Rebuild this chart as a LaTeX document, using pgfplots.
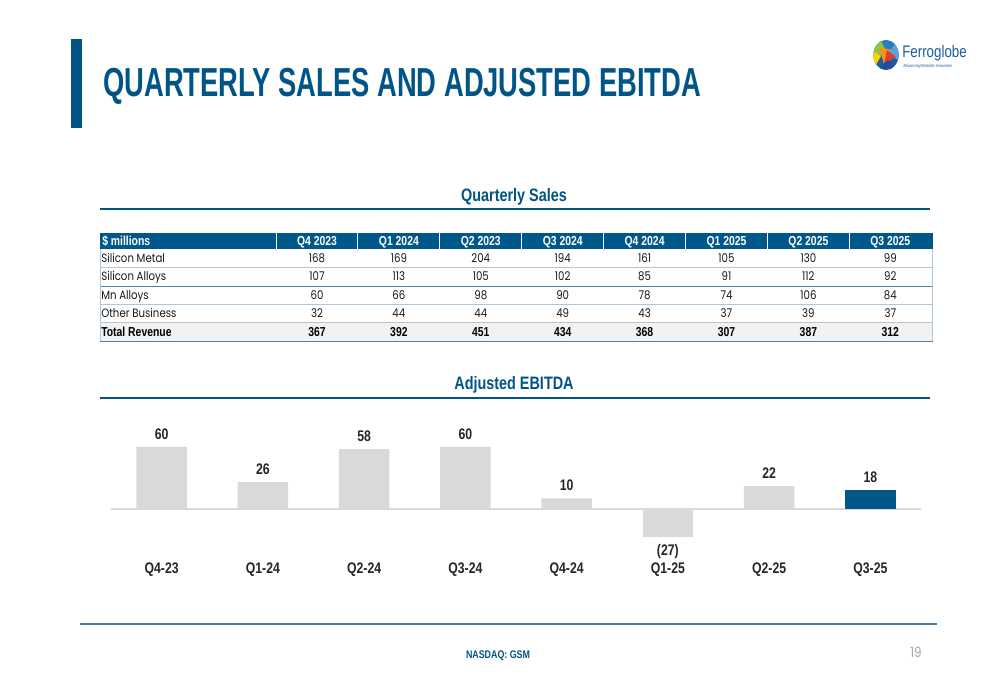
\documentclass[border=0pt]{standalone}
\usepackage{pgfplots}
\pgfplotsset{compat=1.18}
\usepackage{fontspec}
\setmainfont{Poppins}
\newfontfamily\bodyf[FakeStretch=0.85]{Poppins}
\newfontfamily\condf[FakeStretch=0.8]{Liberation Sans}
\newfontfamily\titlef[FakeStretch=0.675]{Liberation Sans}

\definecolor{fgblue}{RGB}{0,84,134}
\definecolor{headblue}{RGB}{0,87,137}
\definecolor{rowline}{RGB}{175,198,220}
\definecolor{rowdark}{RGB}{80,130,175}
\definecolor{bargray}{RGB}{217,217,217}
\definecolor{totalbg}{RGB}{242,242,242}
\definecolor{footline}{RGB}{70,125,165}
\definecolor{logoblue}{RGB}{27,94,158}
\definecolor{gemA}{RGB}{43,123,192}
\definecolor{gemB}{RGB}{85,165,220}
\definecolor{gemC}{RGB}{140,198,63}
\definecolor{gemD}{RGB}{255,210,0}
\definecolor{gemE}{RGB}{247,148,29}
\definecolor{gemF}{RGB}{224,60,49}
\definecolor{gemG}{RGB}{31,78,154}

\begin{document}
\begin{tikzpicture}[x=0.75pt,y=-0.75pt]
\useasboundingbox (0,0) rectangle (1000,685);
\fill[white] (0,0) rectangle (1000,685);

% title
\fill[fgblue] (71,39) rectangle (82,128);
\node[anchor=base west, inner sep=0, text=fgblue,
  font=\titlef\bfseries\fontsize{30.4}{32}\selectfont] at (103,97) {QUARTERLY SALES AND ADJUSTED EBITDA};

% logo
\begin{scope}
  \clip (886,55) ellipse [x radius=9.5pt, y radius=11.2pt];
  \fill[logoblue] (870,38) rectangle (902,72);
  \fill[gemA] (872,38) -- (900,38) -- (887,54) -- cycle;
  \fill[gemB] (900,38) -- (902,62) -- (887,54) -- cycle;
  \fill[gemC] (870,38) -- (880,38) -- (887,54) -- (870,58) -- cycle;
  \fill[gemD] (870,50) -- (881,56) -- (872,72) -- (870,72) -- cycle;
  \fill[gemE] (879,47) -- (891,50) -- (884,64) -- cycle;
  \fill[gemF] (887,50) -- (896,57) -- (884,64) -- cycle;
  \fill[gemG] (874,72) -- (900,72) -- (888,60) -- cycle;
\end{scope}
\node[anchor=base west, inner sep=0, text=logoblue,
  font=\condf\fontsize{12.5}{13}\selectfont] at (902,58) {Ferroglobe};
\node[anchor=base west, inner sep=0, text=logoblue,
  font=\condf\fontsize{3.3}{4}\selectfont] at (903,68) {Advancing Materials Innovation};

% quarterly sales header
\node[anchor=base, inner sep=0, text=fgblue,
  font=\condf\bfseries\fontsize{13.5}{14}\selectfont] at (514,201) {Quarterly Sales};
\draw[fgblue, line width=1.5pt] (100,208.5) -- (930,208.5);

% table
\fill[headblue] (100,233) rectangle (933,249);
\foreach \i in {0,...,7}
  \draw[white, line width=0.75pt] ({276+81.9*\i},233) -- ({276+81.9*\i},249);
\node[anchor=base west, inner sep=0, text=white,
  font=\condf\bfseries\fontsize{9.75}{10}\selectfont] at (102,245.5) {\$ millions};
\foreach \t [count=\i from 0] in {Q4 2023,Q1 2024,Q2 2023,Q3 2024,Q4 2024,Q1 2025,Q2 2025,Q3 2025}
  \node[anchor=base, inner sep=0, text=white,
    font=\condf\bfseries\fontsize{9.75}{10}\selectfont] at ({317+81.9*\i},245.5) {\t};

\fill[totalbg] (100,322.5) rectangle (933,341);
\draw[rowline, line width=0.75pt] (100,267.5) -- (933,267.5);
\draw[rowdark, line width=0.75pt] (100,286) -- (933,286);
\draw[rowline, line width=0.75pt] (100,304.2) -- (933,304.2);
\draw[rowline, line width=0.75pt] (100,322.5) -- (933,322.5);
\draw[rowdark, line width=0.75pt] (100,341) -- (933,341);
\draw[rowline, line width=0.75pt] (100.4,249) -- (100.4,341);
\draw[rowline, line width=0.75pt] (932.6,249) -- (932.6,341);

\foreach \name/\vals [count=\r from 0] in {
  Silicon Metal/{168,169,204,194,161,105,130,99},
  Silicon Alloys/{107,113,105,102,85,91,112,92},
  Mn Alloys/{60,66,98,90,78,74,106,84},
  Other Business/{32,44,44,49,43,37,39,37}} {
  \node[anchor=base west, inner sep=0, text=black!90,
    font=\bodyf\fontsize{9}{10}\selectfont] at (101,{262.5+18.4*\r}) {\name};
  \foreach \v [count=\i from 0] in \vals
    \node[anchor=base, inner sep=0, text=black!90,
      font=\bodyf\fontsize{9}{10}\selectfont] at ({317+81.9*\i},{262.5+18.4*\r}) {\v};
}
\node[anchor=base west, inner sep=0, text=black,
  font=\condf\bfseries\fontsize{9.75}{10}\selectfont] at (101,336) {Total Revenue};
\foreach \v [count=\i from 0] in {367,392,451,434,368,307,387,312}
  \node[anchor=base, inner sep=0, text=black,
    font=\condf\bfseries\fontsize{9.75}{10}\selectfont] at ({317+81.9*\i},336) {\v};

% adjusted ebitda header
\node[anchor=base, inner sep=0, text=fgblue,
  font=\condf\bfseries\fontsize{13.5}{14}\selectfont] at (514,389.5) {Adjusted EBITDA};
\draw[fgblue, line width=1.5pt] (100,397.5) -- (930,397.5);

% footer
\draw[footline, line width=2.2pt] (80,624) -- (937,624);
\node[anchor=base, inner sep=0, text=fgblue,
  font=\condf\bfseries\fontsize{8.3}{9}\selectfont] at (498,658) {NASDAQ: GSM};
\node[anchor=base, inner sep=0, text=black!35,
  font=\bodyf\fontsize{10.5}{11}\selectfont] at (916,657) {19};

\coordinate (chartorigin) at (111,550);

% bar chart
\begin{scope}[x=1cm,y=1cm]
\begin{axis}[
  at={(chartorigin)}, anchor=south west,
  scale only axis, width=607.5pt, height=85pt,
  xmin=-0.5, xmax=7.5, ymin=-40, ymax=70,
  axis line style={draw=none},
  major tick length=0pt,
  ytick=\empty,
  xtick={0,...,7},
  xticklabels={Q4-23,Q1-24,Q2-24,Q3-24,Q4-24,Q1-25,Q2-25,Q3-25},
  xticklabel style={anchor=base, yshift=-17.6pt, text=black!85,
    font=\condf\bfseries\fontsize{11.5}{12}\selectfont},
  extra y ticks={0}, extra y tick labels={},
  extra y tick style={ymajorgrids=true,
    major grid style={draw=bargray, line width=1.1pt}},
  ybar, bar width=0.5, bar shift=0pt,
  clip=false,
  point meta=explicit symbolic,
  nodes near coords,
  every node near coord/.append style={text=black!85, inner sep=5.5pt,
    font=\condf\bfseries\fontsize{11.5}{12}\selectfont},
]
\addplot[fill=bargray, draw=none] coordinates {
  (0,60) [60] (1,26) [26] (2,58) [58] (3,60) [60] (4,10) [10] (6,22) [22]};
\addplot[fill=bargray, draw=none, nodes near coords align={below}] coordinates {(5,-27) [(27)]};
\addplot[fill=headblue, draw=none] coordinates {(7,18) [18]};
\end{axis}
\end{scope}
\end{tikzpicture}
\end{document}
